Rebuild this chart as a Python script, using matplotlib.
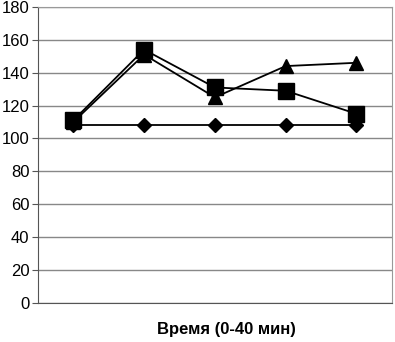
import matplotlib.pyplot as plt
import numpy as np

plt.rcParams['font.family'] = ['Liberation Sans', 'DejaVu Sans']

points = ['0', '10', '20', '30', '40']
diamond = [108, 108, 108, 108, 108]
square = [111, 154, 131, 129, 115]
triangle = [110, 151, 125, 144, 146]

fig = plt.figure(figsize=(3.95, 3.42), dpi=100)
ax = fig.add_axes([0.096, 0.114, 0.896, 0.866])

x = np.arange(len(points))
ax.plot(x, diamond, color='black', lw=1.3, marker='D', ms=7, zorder=3)
ax.plot(x, triangle, color='black', lw=1.3, marker='^', ms=9.5, zorder=3)
ax.plot(x, square, color='black', lw=1.3, marker='s', ms=11, zorder=4)

ax.set_xlim(-0.5, 4.5)
ax.set_ylim(0, 180)
ax.set_yticks(range(0, 181, 20))
ax.set_xticks([])
ax.grid(axis='y', color='#888888', lw=1)
ax.set_axisbelow(True)
for s in ['top', 'right']:
    ax.spines[s].set_color('#999999')
ax.spines['left'].set_color('#555555')
ax.spines['bottom'].set_color('#555555')
ax.tick_params(axis='y', labelsize=12, length=4, pad=2, color='#555555')

ax.set_xlabel('Время (0-40 мин)', fontsize=12, fontweight='bold')
ax.xaxis.set_label_coords(0.534, -0.065)

fig.savefig('out.png', dpi=100)
